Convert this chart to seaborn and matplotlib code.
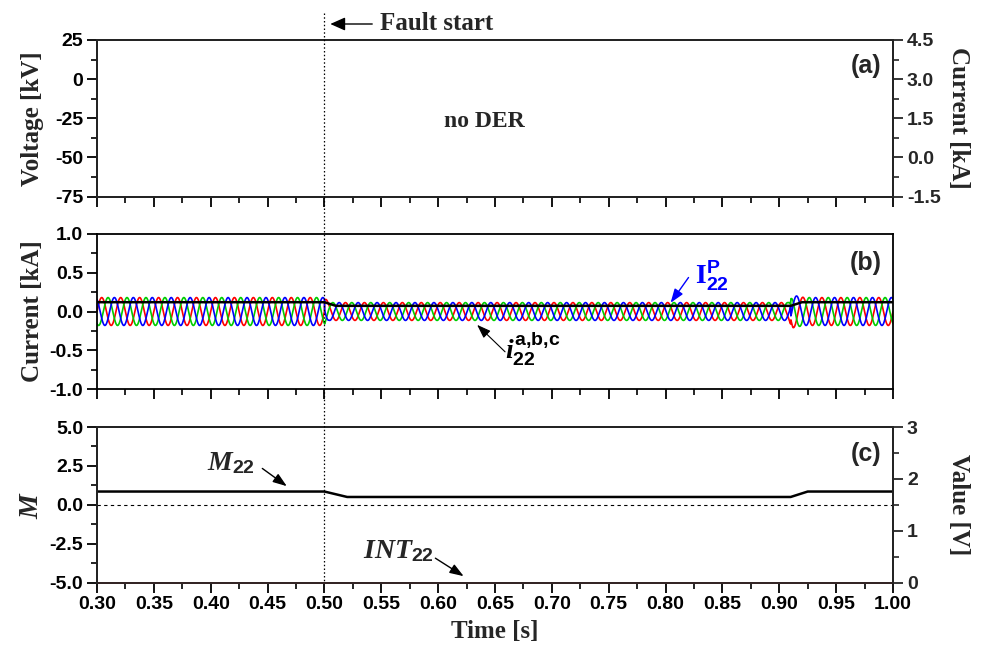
import numpy as np
import pandas as pd
import matplotlib
matplotlib.use("Agg")
import matplotlib.pyplot as plt
import seaborn as sns
from matplotlib.ticker import MultipleLocator
import matplotlib.transforms as mtransforms

# ---------------- data ----------------
freq_hz = 60.0
phase_names = ["a", "b", "c"]
phase_colors = ["#ff0000", "#00cc00", "#0000ff"]
phase_shift_deg = [0.0, -120.0, 120.0]
# envelope of the three phase currents i22 (kA)
env_t = [0.300, 0.500, 0.504, 0.908, 0.912, 0.922, 1.000]
env_amp = [0.18, 0.18, 0.115, 0.115, 0.21, 0.18, 0.18]
# phase jumps (deg) at fault start / fault clear
jump_t = [0.500, 0.910]
jump_deg = [50.0, -50.0]
# I22^P (kA)
ip_t = [0.30, 0.50, 0.51, 0.91, 0.92, 1.00]
ip_val = [0.12, 0.12, 0.073, 0.073, 0.12, 0.12]
# M22
m_t = [0.30, 0.50, 0.52, 0.91, 0.925, 1.00]
m_val = [0.85, 0.85, 0.50, 0.50, 0.85, 0.85]
# INT22 (V)
int_t = [0.30, 1.00]
int_val = [0.0, 0.0]
fault_t = 0.50
x_ticks = [0.30, 0.35, 0.40, 0.45, 0.50, 0.55, 0.60, 0.65, 0.70, 0.75, 0.80, 0.85, 0.90, 0.95, 1.00]

# ---------------- build waveform table ----------------
t = np.arange(0.30, 1.0001, 0.0002)
amp = np.interp(t, env_t, env_amp)
jump = np.zeros_like(t)
for jt, jd in zip(jump_t, jump_deg):
    jump += np.where(t >= jt, np.deg2rad(jd), 0.0)
frames = []
for name, sh in zip(phase_names, phase_shift_deg):
    frames.append(pd.DataFrame({"t": t,
                                "i": amp * np.sin(2 * np.pi * freq_hz * t + np.deg2rad(sh) + jump),
                                "phase": name}))
wave = pd.concat(frames, ignore_index=True)

# ---------------- style ----------------
sns.set_theme(style="ticks")
plt.rcParams["font.family"] = ["Liberation Sans", "DejaVu Sans"]
plt.rcParams["font.weight"] = "bold"
plt.rcParams["axes.unicode_minus"] = False
plt.rcParams["mathtext.fontset"] = "custom"
plt.rcParams["mathtext.rm"] = "Liberation Sans:bold"
plt.rcParams["mathtext.it"] = "Liberation Serif:italic:bold"
plt.rcParams["mathtext.bf"] = "Liberation Serif:bold"
plt.rcParams["axes.linewidth"] = 1.3

W, H = 982, 653
fig = plt.figure(figsize=(W / 100, H / 100), dpi=100)
L, R = 97 / W, 893 / W
def box(top, bot):
    return [L, 1 - bot / H, R - L, (bot - top) / H]
axa = fig.add_axes(box(40, 196.5))
axb = fig.add_axes(box(234, 389))
axc = fig.add_axes(box(427, 582.5))

lab_font = dict(family="Liberation Serif", weight="bold", size=18)
tick_size = 14
left_lab_x = -0.066
right_lab_x = 1.097

def style_axis(ax, show_xlabels):
    ax.set_xlim(0.30, 1.00)
    ax.set_xticks(x_ticks)
    ax.xaxis.set_minor_locator(MultipleLocator(0.025))
    ax.tick_params(axis="both", which="major", direction="out", length=7, width=1.3,
                   labelsize=tick_size, color="black", labelcolor="black", pad=3)
    ax.tick_params(axis="both", which="minor", direction="out", length=4, width=1.2, color="black")
    ax.tick_params(axis="x", labelbottom=show_xlabels)
    for s in ax.spines.values():
        s.set_color("black")
        s.set_linewidth(1.3)
    ax.set_facecolor("white")

def style_right(ax2):
    ax2.tick_params(axis="y", which="major", direction="out", length=7, width=1.3,
                    labelsize=tick_size, pad=3)
    ax2.tick_params(axis="y", which="minor", direction="out", length=4, width=1.2)

# ---------------- panel (a) ----------------
style_axis(axa, False)
axa.set_ylim(-75, 25)
axa.yaxis.set_major_locator(MultipleLocator(25))
axa.yaxis.set_minor_locator(MultipleLocator(12.5))
axa.set_ylabel("Voltage [kV]", fontdict=lab_font)
axa.yaxis.set_label_coords(left_lab_x, 0.5)
axa.set_xlabel("")
axa2 = axa.twinx()
axa2.set_ylim(-1.5, 4.5)
axa2.yaxis.set_major_locator(MultipleLocator(1.5))
axa2.yaxis.set_minor_locator(MultipleLocator(0.75))
axa2.yaxis.set_major_formatter(matplotlib.ticker.FormatStrFormatter("%.1f"))
style_right(axa2)
axa2.set_ylabel("Current [kA]", fontdict=lab_font, rotation=270)
axa2.yaxis.set_label_coords(right_lab_x, 0.5)
axa.text(0.641, -27.0, "no DER", ha="center", va="center",
         family="Liberation Serif", weight="bold", size=17)
axa.text(0.966, 0.833, "(a)", transform=axa.transAxes, ha="center", va="center", size=18, weight="bold")

# ---------------- panel (b) ----------------
style_axis(axb, False)
sns.lineplot(data=wave, x="t", y="i", hue="phase", palette=phase_colors,
             estimator=None, sort=False, legend=False, lw=1.2, ax=axb)
sns.lineplot(x=ip_t, y=ip_val, color="black", lw=1.8, ax=axb, estimator=None)
axb.set_ylim(-1.0, 1.0)
axb.yaxis.set_major_locator(MultipleLocator(0.5))
axb.yaxis.set_minor_locator(MultipleLocator(0.25))
axb.yaxis.set_major_formatter(matplotlib.ticker.FormatStrFormatter("%.1f"))
axb.set_ylabel("Current [kA]", fontdict=lab_font)
axb.yaxis.set_label_coords(left_lab_x, 0.5)
axb.set_xlabel("")
axb.text(0.966, 0.813, "(b)", transform=axb.transAxes, ha="center", va="center", size=18, weight="bold")
axb.annotate("", xy=(0.803, 0.083), xytext=(0.8216, 0.468),
             arrowprops=dict(arrowstyle="-|>,head_length=0.7,head_width=0.25", color="#0000ff", lw=1.0))
axb.text(0.841, 0.46, r"$\mathbf{I}_{\mathrm{22}}^{\mathrm{P}}$", color="#0000ff",
         ha="center", va="center", size=20)
axb.annotate("", xy=(0.6325, -0.147), xytext=(0.6606, -0.545),
             arrowprops=dict(arrowstyle="-|>,head_length=0.7,head_width=0.25", color="black", lw=0.8))
axb.text(0.683, -0.48, r"$i_{\mathrm{22}}^{\mathrm{a{,}b{,}c}}$", color="black",
         ha="center", va="center", size=20)

# ---------------- panel (c) ----------------
style_axis(axc, True)
sns.lineplot(x=m_t, y=m_val, color="black", lw=1.8, ax=axc, estimator=None)
axc.axhline(0.0, color="black", lw=0.8, ls=(0, (3, 3)))
axc.set_ylim(-5.0, 5.0)
axc.yaxis.set_major_locator(MultipleLocator(2.5))
axc.yaxis.set_minor_locator(MultipleLocator(1.25))
axc.yaxis.set_major_formatter(matplotlib.ticker.FormatStrFormatter("%.1f"))
axc.xaxis.set_major_formatter(matplotlib.ticker.FormatStrFormatter("%.2f"))
axc.set_ylabel(r"$M$", fontdict=dict(size=20))
axc.yaxis.set_label_coords(left_lab_x, 0.5)
axc.set_xlabel("Time [s]", fontdict=lab_font, labelpad=5)
axc2 = axc.twinx()
sns.lineplot(x=int_t, y=int_val, color="#cc1f1f", lw=1.3, ax=axc2, estimator=None)
for ln in axc2.get_lines():
    ln.set_clip_on(False)
axc2.set_ylim(0, 3)
axc2.yaxis.set_major_locator(MultipleLocator(1))
axc2.yaxis.set_minor_locator(MultipleLocator(0.5))
style_right(axc2)
axc2.set_ylabel("Value [V]", fontdict=lab_font, rotation=270)
axc2.yaxis.set_label_coords(right_lab_x, 0.5)
axc.text(0.966, 0.826, "(c)", transform=axc.transAxes, ha="center", va="center", size=18, weight="bold")
axc.annotate("", xy=(0.4689, 1.09), xytext=(0.4434, 2.44),
             arrowprops=dict(arrowstyle="-|>,head_length=0.7,head_width=0.25", color="black", lw=1.0))
axc.text(0.418, 2.65, r"$M_{\mathrm{22}}$", ha="center", va="center", size=20)
axc.annotate("", xy=(0.6245, -4.69), xytext=(0.5955, -3.34),
             arrowprops=dict(arrowstyle="-|>,head_length=0.7,head_width=0.25", color="black", lw=1.0))
axc.text(0.5647, -3.0, r"$INT_{\mathrm{22}}$", ha="center", va="center", size=20)

# ---------------- fault start line & label ----------------
trans = mtransforms.blended_transform_factory(axc.transData, fig.transFigure)
fig.add_artist(matplotlib.lines.Line2D([fault_t, fault_t], [1 - 13 / H, 1 - 582.5 / H],
                                       transform=trans, color="black", lw=0.9, ls=(0, (1.2, 1.8))))
fig.add_artist(matplotlib.patches.FancyArrowPatch((375 / W, 1 - 24 / H), (327.5 / W, 1 - 24 / H),
                                                  transform=fig.transFigure,
                                                  arrowstyle="-|>,head_length=9,head_width=4",
                                                  color="black", lw=1.0))
fig.text(380 / W, 1 - 24 / H, "Fault start", ha="left", va="center",
         family="Liberation Serif", weight="bold", size=18)

fig.savefig("out.png", dpi=100, facecolor="white")
